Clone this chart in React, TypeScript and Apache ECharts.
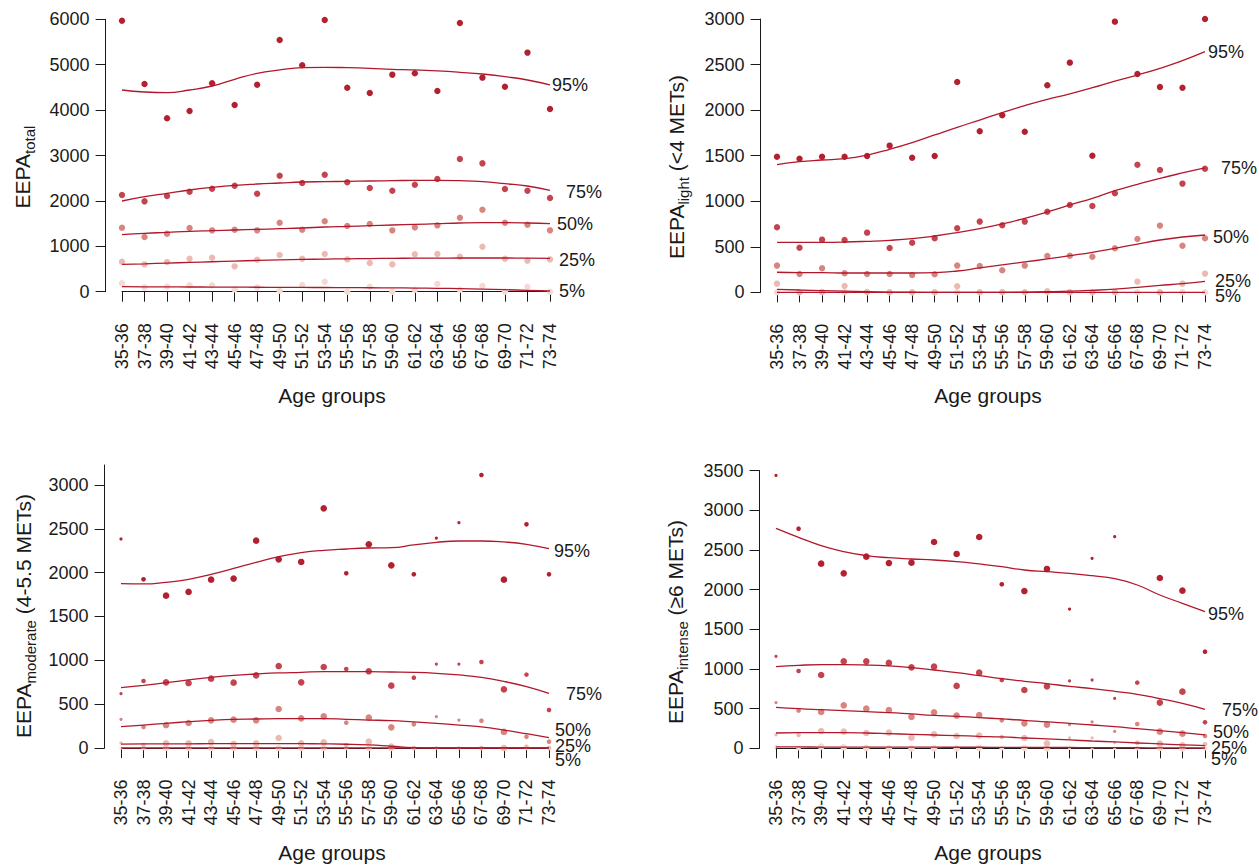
import React, { useEffect, useRef } from "react";
import * as echarts from "echarts";

// ---------- data ----------
const ageGroups = [
  "35-36", "37-38", "39-40", "41-42", "43-44", "45-46", "47-48", "49-50", "51-52", "53-54",
  "55-56", "57-58", "59-60", "61-62", "63-64", "65-66", "67-68", "69-70", "71-72", "73-74",
];
const percentileNames = ["5%", "25%", "50%", "75%", "95%"];

// EEPA total
const totalP5 = [184, 95, 110, 140, 140, 51, 95, 22, 147, 220, 0, 110, 0, 44, 169, 44, 125, 0, 110, 0];
const totalP25 = [661, 602, 654, 727, 749, 558, 705, 808, 727, 830, 712, 632, 602, 823, 830, 771, 991, 727, 683, 712];
const totalP50 = [1410, 1204, 1278, 1403, 1351, 1366, 1351, 1520, 1366, 1550, 1447, 1491, 1351, 1417, 1461, 1630, 1807, 1520, 1476, 1351];
const totalP75 = [2130, 1990, 2108, 2203, 2269, 2335, 2159, 2556, 2394, 2578, 2409, 2284, 2225, 2357, 2482, 2923, 2827, 2262, 2225, 2064];
const totalP95 = [5970, 4575, 3819, 3980, 4590, 4113, 4560, 5545, 4987, 5985, 4494, 4377, 4781, 4810, 4421, 5919, 4715, 4516, 5266, 4025];
const totalFit5 = [110, 108, 106, 104, 102, 100, 98, 96, 94, 92, 90, 87, 84, 80, 75, 68, 58, 45, 30, 15];
const totalFit25 = [602, 615, 630, 645, 660, 675, 688, 700, 710, 718, 725, 730, 735, 738, 740, 742, 742, 742, 740, 735];
const totalFit50 = [1256, 1285, 1307, 1329, 1344, 1359, 1373, 1388, 1403, 1425, 1439, 1454, 1469, 1483, 1498, 1513, 1520, 1520, 1513, 1498];
const totalFit75 = [1998, 2093, 2166, 2240, 2298, 2343, 2372, 2394, 2416, 2424, 2431, 2438, 2445, 2453, 2453, 2445, 2424, 2379, 2328, 2232];
const totalFit95 = [4443, 4399, 4384, 4443, 4531, 4678, 4810, 4884, 4935, 4943, 4935, 4920, 4898, 4884, 4862, 4832, 4795, 4737, 4663, 4553];

// EEPA light (<4 METs)
const lightP5 = [0, 0, 0, 0, 0, 0, 0, 0, 0, 0, 0, 0, 0, 0, 0, 0, 0, 0, 0, 0];
const lightP25 = [95, 0, 4, 70, 4, 0, 0, 0, 66, 0, 4, 0, 11, 0, 0, 0, 117, 0, 95, 205];
const lightP50 = [293, 201, 263, 209, 201, 201, 190, 198, 293, 289, 241, 293, 399, 402, 391, 483, 585, 732, 512, 593];
const lightP75 = [713, 490, 578, 574, 655, 487, 545, 593, 702, 776, 735, 776, 885, 959, 948, 1087, 1401, 1343, 1193, 1357];
const lightP95 = [1489, 1467, 1489, 1489, 1496, 1610, 1478, 1496, 2308, 1767, 1943, 1763, 2272, 2521, 1500, 2971, 2396, 2254, 2246, 3000];
const lightFit5 = [0, 0, 0, 0, 0, 0, 0, 0, 0, 0, 0, 0, 0, 0, 0, 0, 0, 0, 0, 0];
const lightFit25 = [33, 25, 18, 12, 7, 3, 1, 0, 0, 0, 0, 2, 6, 12, 22, 35, 55, 75, 95, 120];
const lightFit50 = [220, 216, 216, 212, 212, 212, 212, 216, 234, 267, 300, 333, 366, 402, 439, 483, 530, 574, 607, 629];
const lightFit75 = [549, 549, 549, 552, 560, 571, 589, 618, 655, 699, 750, 812, 882, 959, 1032, 1116, 1185, 1251, 1310, 1365];
const lightFit95 = [1401, 1434, 1452, 1467, 1507, 1570, 1643, 1727, 1811, 1891, 1972, 2049, 2118, 2177, 2246, 2319, 2385, 2458, 2543, 2641];

// EEPA moderate (4-5.5 METs)
const moderateP5 = [0, 0, 0, 0, 0, 0, 0, 0, 0, 0, 0, 0, 0, 0, 0, 0, 0, 0, 0, 0];
const moderateP25 = [57, 34, 53, 53, 68, 46, 53, 114, 53, 65, 34, 72, 15, 0, 0, 0, 0, 0, 15, 0];
const moderateP50 = [327, 240, 262, 285, 316, 323, 316, 445, 338, 361, 289, 346, 236, 270, 357, 319, 312, 183, 129, 72];
const moderateP75 = [620, 764, 749, 741, 791, 745, 829, 935, 749, 924, 901, 875, 711, 802, 958, 958, 981, 669, 837, 433];
const moderateP95 = [2384, 1924, 1738, 1780, 1920, 1932, 2365, 2152, 2122, 2734, 1992, 2323, 2084, 1981, 2395, 2570, 3114, 1920, 2551, 1981];
const moderateFit5 = [0, 0, 0, 0, 0, 0, 0, 0, 0, 0, 0, 0, 0, 0, 0, 0, 0, 0, 0, 0];
const moderateFit25 = [45, 46, 47, 48, 49, 50, 50, 50, 49, 47, 43, 35, 20, 5, 0, 0, 0, 0, 0, 0];
const moderateFit50 = [243, 262, 281, 300, 316, 327, 331, 335, 335, 335, 327, 319, 312, 297, 281, 262, 240, 205, 163, 118];
const moderateFit75 = [688, 715, 745, 776, 806, 829, 844, 856, 863, 871, 871, 871, 867, 863, 852, 833, 806, 760, 700, 624];
const moderateFit95 = [1875, 1871, 1890, 1924, 1981, 2049, 2118, 2183, 2228, 2255, 2270, 2281, 2285, 2316, 2346, 2361, 2361, 2350, 2323, 2274];
const moderateWeight = [1, 2, 3, 3, 3, 3, 3, 3, 3, 3, 2, 3, 3, 2, 1, 1, 2, 3, 2, 2];

// EEPA intense (>=6 METs)
const intenseP5 = [21, 0, 21, 13, 4, 0, 0, 0, 0, 4, 0, 4, 0, 0, 0, 0, 0, 4, 0, 0];
const intenseP25 = [168, 168, 218, 210, 193, 197, 134, 176, 155, 160, 143, 130, 63, 130, 130, 71, 71, 59, 38, 50];
const intenseP50 = [576, 475, 458, 542, 500, 483, 395, 454, 412, 420, 353, 315, 298, 298, 332, 214, 307, 210, 185, 155];
const intenseP75 = [1160, 975, 924, 1097, 1097, 1076, 1021, 1029, 786, 954, 861, 735, 781, 849, 861, 630, 828, 576, 714, 328];
const intenseP95 = [3441, 2769, 2328, 2206, 2416, 2336, 2340, 2601, 2450, 2664, 2067, 1983, 2261, 1756, 2395, 2668, null, 2147, 1987, 1218];
const intenseFit5 = [17, 17, 16, 16, 15, 15, 14, 14, 13, 13, 12, 11, 10, 10, 9, 8, 7, 6, 5, 4];
const intenseFit25 = [193, 197, 197, 197, 193, 185, 176, 168, 160, 151, 143, 130, 118, 105, 92, 80, 67, 55, 42, 34];
const intenseFit50 = [517, 500, 487, 475, 462, 450, 433, 416, 403, 387, 370, 353, 332, 315, 294, 273, 248, 223, 197, 168];
const intenseFit75 = [1029, 1046, 1055, 1055, 1050, 1038, 1017, 987, 954, 916, 878, 845, 815, 781, 752, 718, 681, 626, 567, 492];
const intenseFit95 = [2773, 2660, 2555, 2479, 2429, 2403, 2387, 2374, 2353, 2324, 2290, 2248, 2227, 2206, 2176, 2139, 2059, 1933, 1828, 1723];
const intenseWeight = [1, 2, 3, 3, 3, 3, 3, 3, 3, 3, 2, 3, 3, 1, 1, 1, 2, 3, 3, 2];

const totalTicks = [0, 1000, 2000, 3000, 4000, 5000, 6000];
const lightTicks = [0, 500, 1000, 1500, 2000, 2500, 3000];
const moderateTicks = [0, 500, 1000, 1500, 2000, 2500, 3000];
const intenseTicks = [0, 500, 1000, 1500, 2000, 2500, 3000, 3500];

// ---------- styling ----------
const FONT = '"Liberation Sans", Arial, Helvetica, sans-serif';
const TEXT = "#1a1a1a";
const LINE = "#b2182b";
const POINT_COLORS = ["#f4dad2", "#ecbab1", "#d8847f", "#c4434f", "#b3202f"];
const sizeFor = (w: number) => (w === 1 ? 3.2 : w === 2 ? 4.6 : 6.6);

type Panel = {
  points: (number | null)[][];
  fits: number[][];
  weights: number[] | null;
  grid: { left: number; top: number; width: number; height: number };
  max: number;
  ticks: number[];
  labelOffsets: [number, number][];
  title: string;
  titlePos: [number, number];
  xTitlePos: [number, number];
};

const panels: Panel[] = [
  {
    points: [totalP5, totalP25, totalP50, totalP75, totalP95],
    fits: [totalFit5, totalFit25, totalFit50, totalFit75, totalFit95],
    weights: null,
    grid: { left: 122, top: 19.3, width: 428, height: 272.4 },
    max: 6000,
    ticks: totalTicks,
    labelOffsets: [[9, 0], [9, 2], [7, 0], [16, 2], [2, 0]],
    title: "{m|EEPA}{s|total}",
    titlePos: [22, 167],
    xTitlePos: [332, 395],
  },
  {
    points: [lightP5, lightP25, lightP50, lightP75, lightP95],
    fits: [lightFit5, lightFit25, lightFit50, lightFit75, lightFit95],
    weights: null,
    grid: { left: 777, top: 19, width: 428, height: 273.3 },
    max: 3000,
    ticks: lightTicks,
    labelOffsets: [[10, 4], [10, 0], [8, 2], [16, 0], [3, 0]],
    title: "{m|EEPA}{s|light}{m| (<4 METs)}",
    titlePos: [676, 167],
    xTitlePos: [988, 395],
  },
  {
    points: [moderateP5, moderateP25, moderateP50, moderateP75, moderateP95],
    fits: [moderateFit5, moderateFit25, moderateFit50, moderateFit75, moderateFit95],
    weights: moderateWeight,
    grid: { left: 121, top: 465, width: 428, height: 283 },
    max: 3228,
    ticks: moderateTicks,
    labelOffsets: [[6, 12], [6, -2], [6, -8], [17, 1], [5, 2]],
    title: "{m|EEPA}{s|moderate}{m| (4-5.5 METs)}",
    titlePos: [23, 616],
    xTitlePos: [332, 852],
  },
  {
    points: [intenseP5, intenseP25, intenseP50, intenseP75, intenseP95],
    fits: [intenseFit5, intenseFit25, intenseFit50, intenseFit75, intenseFit95],
    weights: intenseWeight,
    grid: { left: 776, top: 470.7, width: 429, height: 277.6 },
    max: 3500,
    ticks: intenseTicks,
    labelOffsets: [[6, 11], [6, 2], [8, -3], [17, 1], [3, 2]],
    title: "{m|EEPA}{s|intense}{m| (\u22656 METs)}",
    titlePos: [675, 622],
    xTitlePos: [988, 852],
  },
];

function buildOption() {
  const grid: any[] = [];
  const xAxis: any[] = [];
  const yAxis: any[] = [];
  const series: any[] = [];
  const graphic: any[] = [];

  panels.forEach((p, i) => {
    grid.push({ ...p.grid, containLabel: false });
    xAxis.push({
      gridIndex: i,
      type: "category",
      data: ageGroups,
      boundaryGap: false,
      offset: 11.5,
      axisLine: { show: true, lineStyle: { color: TEXT, width: 1 } },
      axisTick: { show: true, interval: 0, length: 10, lineStyle: { color: TEXT, width: 1 } },
      axisLabel: {
        interval: 0,
        rotate: 90,
        margin: 20,
        fontSize: 18,
        fontFamily: FONT,
        color: TEXT,
      },
      splitLine: { show: false },
    });
    yAxis.push({
      gridIndex: i,
      type: "value",
      min: 0,
      max: p.max,
      offset: 16.4,
      axisLine: { show: true, lineStyle: { color: TEXT, width: 1 } },
      axisTick: { show: true, length: 10, customValues: p.ticks, lineStyle: { color: TEXT, width: 1 } },
      axisLabel: {
        customValues: p.ticks,
        margin: 16,
        fontSize: 18,
        fontFamily: FONT,
        color: TEXT,
        formatter: (v: number) => String(Math.round(v)),
      },
      splitLine: { show: false },
    });

    p.points.forEach((vals, j) => {
      const w = p.weights;
      series.push({
        type: "scatter",
        xAxisIndex: i,
        yAxisIndex: i,
        silent: true,
        z: 2,
        data: vals.map((v) => (v === null ? "-" : v)),
        symbolSize: w ? (_v: any, params: any) => sizeFor(w[params.dataIndex]) : 6.4,
        itemStyle: { color: POINT_COLORS[j], opacity: 1 },
      });
    });
    p.fits.forEach((vals, j) => {
      series.push({
        type: "line",
        xAxisIndex: i,
        yAxisIndex: i,
        silent: true,
        z: 3,
        data: vals,
        smooth: true,
        symbol: "none",
        lineStyle: { color: LINE, width: 1.3 },
        endLabel: {
          show: true,
          formatter: percentileNames[j],
          color: TEXT,
          fontSize: 18,
          fontFamily: FONT,
          distance: 0,
          offset: p.labelOffsets[j],
        },
      });
    });

    graphic.push({
      type: "text",
      x: p.titlePos[0],
      y: p.titlePos[1],
      rotation: Math.PI / 2,
      silent: true,
      style: {
        text: p.title,
        align: "center",
        verticalAlign: "middle",
        fill: TEXT,
        fontFamily: FONT,
        rich: {
          m: { fontSize: 21, fontFamily: FONT, fill: TEXT, verticalAlign: "middle", lineHeight: 30 },
          s: { fontSize: 15, fontFamily: FONT, fill: TEXT, verticalAlign: "bottom", lineHeight: 30 },
        },
      },
    });
    graphic.push({
      type: "text",
      x: p.xTitlePos[0],
      y: p.xTitlePos[1],
      silent: true,
      style: {
        text: "Age groups",
        align: "center",
        verticalAlign: "middle",
        fill: TEXT,
        fontSize: 21,
        fontFamily: FONT,
      },
    });
  });

  return {
    animation: false,
    backgroundColor: "#ffffff",
    grid,
    xAxis,
    yAxis,
    series,
    graphic,
  };
}

export default function App() {
  const ref = useRef<HTMLDivElement>(null);
  useEffect(() => {
    if (!ref.current) return;
    const chart = echarts.init(ref.current, undefined, { renderer: "svg" });
    chart.setOption(buildOption() as any);
    return () => chart.dispose();
  }, []);
  return (
    <div
      ref={ref}
      style={{ position: "absolute", left: 0, top: 0, width: 1259, height: 866, background: "#fff" }}
    />
  );
}
